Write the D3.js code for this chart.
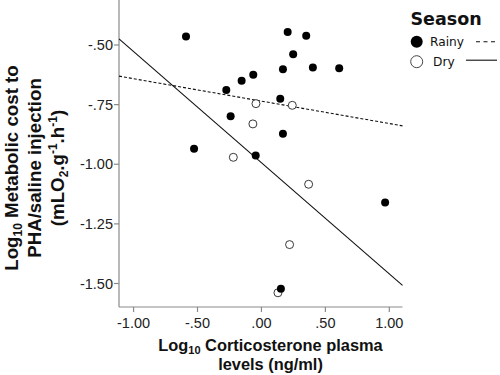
<!DOCTYPE html>
<html><head><meta charset="utf-8">
<script src="https://cdn.jsdelivr.net/npm/d3@7"></script>
<style>body{margin:0;background:#fff}svg{display:block}</style>
</head><body>
<script>
// Data
const rainyX = [-0.586,0.209,0.354,0.252,0.172,0.406,0.612,-0.060,-0.151,-0.271,0.151,-0.237,0.172,-0.523,-0.041,0.971,0.156];
const rainyY = [-0.466,-0.448,-0.463,-0.541,-0.604,-0.596,-0.600,-0.627,-0.652,-0.691,-0.727,-0.801,-0.874,-0.937,-0.965,-1.162,-1.524];
const dryX = [-0.039,0.245,-0.063,-0.216,0.373,0.224,0.133];
const dryY = [-0.748,-0.755,-0.833,-0.973,-1.086,-1.339,-1.541];
const seasons = ["Rainy","Dry"];
const fitIntercept = [-0.737,-0.994];
const fitSlope = [-0.094,-0.466];
const xTicks = [-1.0,-0.5,0.0,0.5,1.0];
const xTickLabels = ["-1.00","-.50",".00",".50","1.00"];
const yTicks = [-0.5,-0.75,-1.0,-1.25,-1.5];
const yTickLabels = ["-.50","-.75","-1.00","-1.25","-1.50"];

const W=500,H=375;
const svg=d3.select("body").append("svg").attr("width",W).attr("height",H);
const x=d3.scaleLinear().domain([-1.11,1.107]).range([119,402.5]);
const y=d3.scaleLinear().domain([-0.5,-1.5]).range([44.5,283]);

const axisCol="#8a8a8a";
const sans="Liberation Sans, Arial, sans-serif";
// axes
const gx=svg.append("g").attr("transform","translate(0,307)")
 .call(d3.axisBottom(x).tickValues(xTicks).tickFormat((d,i)=>xTickLabels[i]).tickSize(5).tickSizeOuter(0));
const gy=svg.append("g").attr("transform","translate(119,0)")
 .call(d3.axisLeft(y).tickValues(yTicks).tickFormat((d,i)=>yTickLabels[i]).tickSize(5).tickSizeOuter(0));
gx.select(".domain").attr("d",`M119,0H402.5`);
gy.select(".domain").attr("d",`M0,0V307`);
[gx,gy].forEach(g=>{
  g.selectAll(".domain,line").attr("stroke",axisCol).attr("stroke-width",1.2);
  g.selectAll("text").attr("font-family",sans).attr("font-size",14.5).attr("fill","#222");
});
gx.selectAll("text").attr("dy","0").attr("y",21);
gy.selectAll("text").attr("x",-6).attr("dy","0.35em");

// fit lines
const xd=x.domain();
seasons.forEach((s,i)=>{
  svg.append("line")
   .attr("x1",x(xd[0])).attr("y1",y(fitIntercept[i]+fitSlope[i]*xd[0]))
   .attr("x2",x(xd[1])).attr("y2",y(fitIntercept[i]+fitSlope[i]*xd[1]))
   .attr("stroke","#111").attr("stroke-width",1.1)
   .attr("stroke-dasharray",s==="Rainy"?"3,2":null);
});

// points
svg.append("g").selectAll("circle").data(dryX.map((v,i)=>[v,dryY[i]])).join("circle")
 .attr("cx",d=>x(d[0])).attr("cy",d=>y(d[1])).attr("r",4)
 .attr("fill","#fff").attr("stroke","#222").attr("stroke-width",0.9);
svg.append("g").selectAll("circle").data(rainyX.map((v,i)=>[v,rainyY[i]])).join("circle")
 .attr("cx",d=>x(d[0])).attr("cy",d=>y(d[1])).attr("r",4)
 .attr("fill","#000");

// axis titles
const yt=svg.append("text").attr("transform","translate(18,168) rotate(-90)")
 .attr("text-anchor","middle").attr("font-family",sans)
 .attr("font-weight","bold").attr("font-size",18.7).attr("fill","#111");
const l1=yt.append("tspan").attr("x",0).attr("y",0);
l1.append("tspan").text("Log");
l1.append("tspan").attr("font-size",12).attr("dy",3.5).text("10");
l1.append("tspan").attr("dy",-3.5).text(" Metabolic cost to");
yt.append("tspan").attr("x",0).attr("y",23).text("PHA/saline injection");
const l3=yt.append("tspan").attr("x",0).attr("y",46);
l3.append("tspan").text("(mLO");
l3.append("tspan").attr("font-size",12).attr("dy",3.5).text("2");
l3.append("tspan").attr("dy",-3.5).text(".g");
l3.append("tspan").attr("font-size",12).attr("dy",-7).text("-1");
l3.append("tspan").attr("dy",7).text(".h");
l3.append("tspan").attr("font-size",12).attr("dy",-7).text("-1");
l3.append("tspan").attr("dy",7).text(")");

const xt=svg.append("text").attr("text-anchor","middle").attr("font-family",sans)
 .attr("font-weight","bold").attr("font-size",16.4).attr("fill","#111");
const m1=xt.append("tspan").attr("x",270.5).attr("y",351);
m1.append("tspan").text("Log");
m1.append("tspan").attr("font-size",11).attr("dy",3).text("10");
m1.append("tspan").attr("dy",-3).text(" Corticosterone plasma");
xt.append("tspan").attr("x",270.5).attr("y",369.5).text("levels (ng/ml)");

// legend
const lg=svg.append("g").attr("font-family","DejaVu Sans, Verdana, sans-serif");
lg.append("text").attr("x",410.5).attr("y",25).attr("font-weight","bold").attr("font-size",17.5).attr("fill","#111").text("Season");
seasons.forEach((s,i)=>{
  const cy=41.7+i*20;
  const ly=i===0?cy:cy-1.5;
  lg.append("circle").attr("cx",416.7).attr("cy",cy).attr("r",6)
   .attr("fill",s==="Rainy"?"#000":"#fff").attr("stroke",s==="Rainy"?"none":"#333").attr("stroke-width",0.9);
  lg.append("text").attr("x",i===0?430:433).attr("y",cy+4.5).attr("font-size",12.2).attr("fill","#111").text(s);
  lg.append("line").attr("x1",s==="Rainy"?476:466).attr("x2",497).attr("y1",ly).attr("y2",ly)
   .attr("stroke","#111").attr("stroke-width",1.1).attr("stroke-dasharray",s==="Rainy"?"4,3.5":null);
});
</script>
</body></html>
